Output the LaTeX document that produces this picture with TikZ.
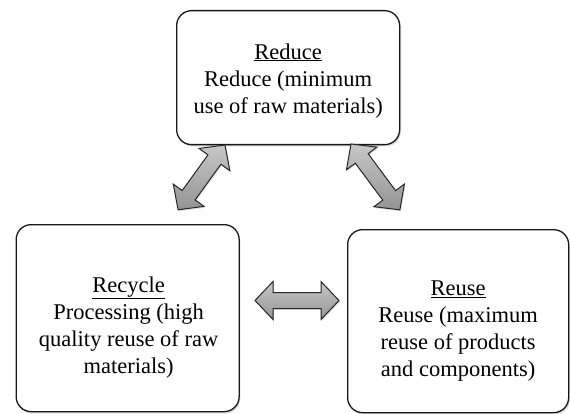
\documentclass[tikz,border=0pt]{standalone}
\usepackage{fontspec}
\setmainfont{Liberation Serif}
\usetikzlibrary{shadows}
\tikzset{
  x=1pt, y=1pt,
  roundbox/.style={draw=black!90, line width=1.3pt, rounded corners=15pt, fill=white,
    drop shadow={shadow xshift=1.2pt, shadow yshift=-1.8pt, fill=black!35, opacity=.45}},
  boxtext/.style={align=center, inner sep=0pt, font=\fontsize{22.5}{27}\selectfont},
  arrowshape/.style={draw=black!85, line width=1pt, line join=miter,
    top color=black!22, bottom color=black!42,
    drop shadow={shadow xshift=1pt, shadow yshift=-1.5pt, fill=black!30, opacity=.4}}
}
\newcommand{\DblArrow}[3]{% start coordinate, angle, length
  \begin{scope}[shift={#1}, rotate=#2]
    \path[arrowshape] (0,0) -- (18,19) -- (18,8) -- (#3-18,8) -- (#3-18,19) -- (#3,0)
      -- (#3-18,-19) -- (#3-18,-8) -- (18,-8) -- (18,-19) -- cycle;
  \end{scope}}
\begin{document}
\begin{tikzpicture}
  \useasboundingbox (0,0) rectangle (570,-414);
  % boxes
  \node[roundbox, minimum width=223pt, minimum height=134pt, anchor=north west] (reduce) at (176,-10) {};
  \node[roundbox, minimum width=223pt, minimum height=187pt, anchor=north west] (recycle) at (15.5,-224) {};
  \node[roundbox, minimum width=221pt, minimum height=183pt, anchor=north west] (reuse) at (347,-229) {};
  % texts
  \node[boxtext] (reducetxt) at ([yshift=-3pt]reduce.center)
    {\underline{Reduce}\\Reduce (minimum\\use of raw materials)};
  \node[boxtext] (recycletxt) at ([xshift=1pt,yshift=-9pt]recycle.center)
    {\underline{Recycle}\\Processing (high\\quality reuse of raw\\materials)};
  \node[boxtext] (reusetxt) at ([yshift=-10pt]reuse.center)
    {\underline{Reuse}\\Reuse (maximum\\reuse of products\\and components)};
  % arrows
  \coordinate (a1) at (225,-145);
  \coordinate (a2) at (351,-144);
  \coordinate (a3) at (255,-300.5);
  \DblArrow{(a1)}{234.1}{80}
  \DblArrow{(a2)}{-53.4}{82}
  \DblArrow{(a3)}{0}{84}
\end{tikzpicture}
\end{document}
